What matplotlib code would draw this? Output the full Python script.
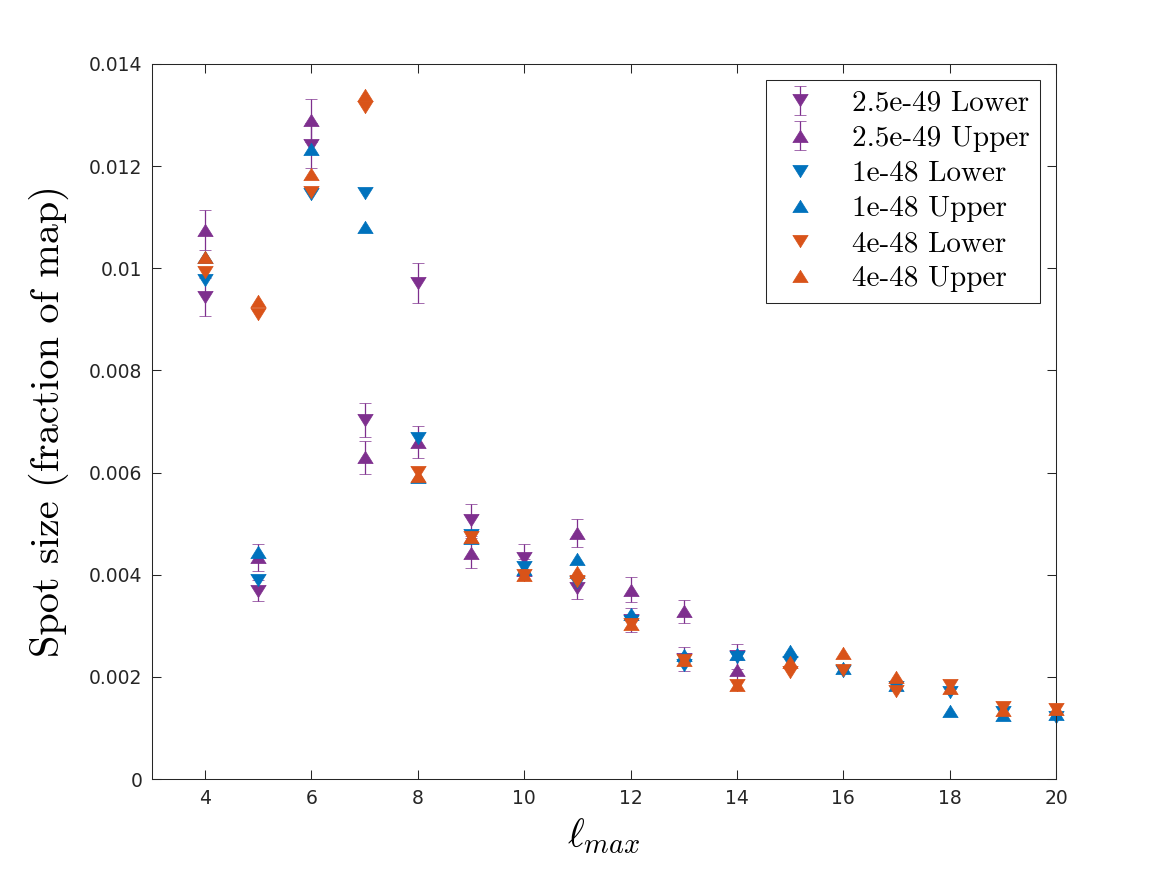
import numpy as np
import matplotlib
matplotlib.use('Agg')
import matplotlib.pyplot as plt
from matplotlib.ticker import FormatStrFormatter

# Spot size vs lmax for three cross sections, lower/upper estimates.
lmax_purple = [4, 5, 6, 7, 8, 9, 10, 11, 12, 13, 14]
purple_lower = [0.00944, 0.00369, 0.01241, 0.00703, 0.00971, 0.00507, 0.00433, 0.00374, 0.00311, 0.00235, 0.00240]
purple_lower_err = [0.00037, 0.00020, 0.00044, 0.00033, 0.00039, 0.00031, 0.00027, 0.00021, 0.00023, 0.00023, 0.00025]
purple_upper = [0.01075, 0.00434, 0.01290, 0.00630, 0.00660, 0.00442, 0.00410, 0.00482, 0.00371, 0.00328, 0.00213]
purple_upper_err = [0.00040, 0.00026, 0.00042, 0.00032, 0.00032, 0.00029, 0.00020, 0.00027, 0.00024, 0.00022, 0.00020]

lmax = [4, 5, 6, 7, 8, 9, 10, 11, 12, 13, 14, 15, 16, 17, 18, 19, 20]
blue_lower = [0.00977, 0.00390, 0.01146, 0.01147, 0.00667, 0.00478, 0.00416, 0.00386, 0.00310, 0.00223,
              0.00238, 0.00230, 0.00212, 0.00180, 0.00171, 0.00131, 0.00122]
blue_upper = [0.01023, 0.00445, 0.01233, 0.01081, 0.00592, 0.00472, 0.00412, 0.00430, 0.00324, 0.00243,
              0.00244, 0.00250, 0.00218, 0.00184, 0.00133, 0.00125, 0.00127]
orange_lower = [0.00993, 0.00910, 0.01150, 0.01316, 0.00601, 0.00474, 0.00400, 0.00388, 0.00304, 0.00233,
                0.00184, 0.00210, 0.00213, 0.00173, 0.00184, 0.00141, 0.00138]
orange_upper = [0.01022, 0.00935, 0.01185, 0.01340, 0.00594, 0.00474, 0.00400, 0.00406, 0.00304, 0.00233,
                0.00184, 0.00230, 0.00247, 0.00200, 0.00178, 0.00136, 0.00138]

purple, blue, orange = '#7E2F8E', '#0072BD', '#D95319'
# MATLAB-ish triangles: a bit wider than tall
tri_up = [(0, 0.8), (-1, -0.8), (1, -0.8), (0, 0.8)]
tri_dn = [(0, -0.8), (-1, 0.8), (1, 0.8), (0, -0.8)]
ms = 11
mew = 0.5
cm_font = 'cmr10'

plt.rcParams['mathtext.fontset'] = 'cm'
plt.rcParams['font.family'] = 'DejaVu Sans'

fig = plt.figure(figsize=(11.67, 8.75), dpi=100)
ax = fig.add_axes([0.1302, 0.1097, 0.7747, 0.8172])

# Drawing order as in the original: each later series sits on top.
eb_kw = dict(ms=ms, mew=mew, linestyle='none', elinewidth=0.9, capsize=4.6, capthick=0.9, clip_on=False)
h1 = ax.errorbar(lmax_purple, purple_lower, yerr=purple_lower_err, marker=tri_dn, color=purple,
                 zorder=2.0, label='2.5e-49 Lower', **eb_kw)
h2 = ax.errorbar(lmax_purple, purple_upper, yerr=purple_upper_err, marker=tri_up, color=purple,
                 zorder=2.2, label='2.5e-49 Upper', **eb_kw)
pt_kw = dict(ls='none', ms=ms, mew=mew, clip_on=False)
h3, = ax.plot(lmax, blue_lower, marker=tri_dn, color=blue, zorder=2.4, label='1e-48 Lower', **pt_kw)
h4, = ax.plot(lmax, blue_upper, marker=tri_up, color=blue, zorder=2.5, label='1e-48 Upper', **pt_kw)
h5, = ax.plot(lmax, orange_lower, marker=tri_dn, color=orange, zorder=2.6, label='4e-48 Lower', **pt_kw)
h6, = ax.plot(lmax, orange_upper, marker=tri_up, color=orange, zorder=2.7, label='4e-48 Upper', **pt_kw)

ax.set_xlim(3, 20)
ax.set_ylim(0, 0.014)
ax.set_xticks(np.arange(4, 21, 2))
ax.set_yticks(np.arange(0, 0.0141, 0.002))
ax.yaxis.set_major_formatter(FormatStrFormatter('%g'))
ax.tick_params(direction='in', length=6.5, width=0.75, top=True, right=True,
               labelsize=13.5, colors='#262626', pad=7)
for s in ax.spines.values():
  s.set_linewidth(0.75)
  s.set_color('#262626')

ax.set_xlabel(r'$\ell_{max}$', fontsize=29, labelpad=6)
ax.set_ylabel('Spot size (fraction of map)', fontsize=29, family=cm_font, labelpad=14)

leg = ax.legend(handles=[h1, h2, h3, h4, h5, h6], loc='upper right',
                prop={'family': cm_font, 'size': 21}, fancybox=False,
                framealpha=1, edgecolor='#262626', borderaxespad=0.55, labelspacing=0.3,
                handlelength=1.6, handletextpad=1.0, borderpad=0.35)
leg.get_frame().set_linewidth(0.75)
leg.set_zorder(5)

fig.savefig('out.png', dpi=100)
